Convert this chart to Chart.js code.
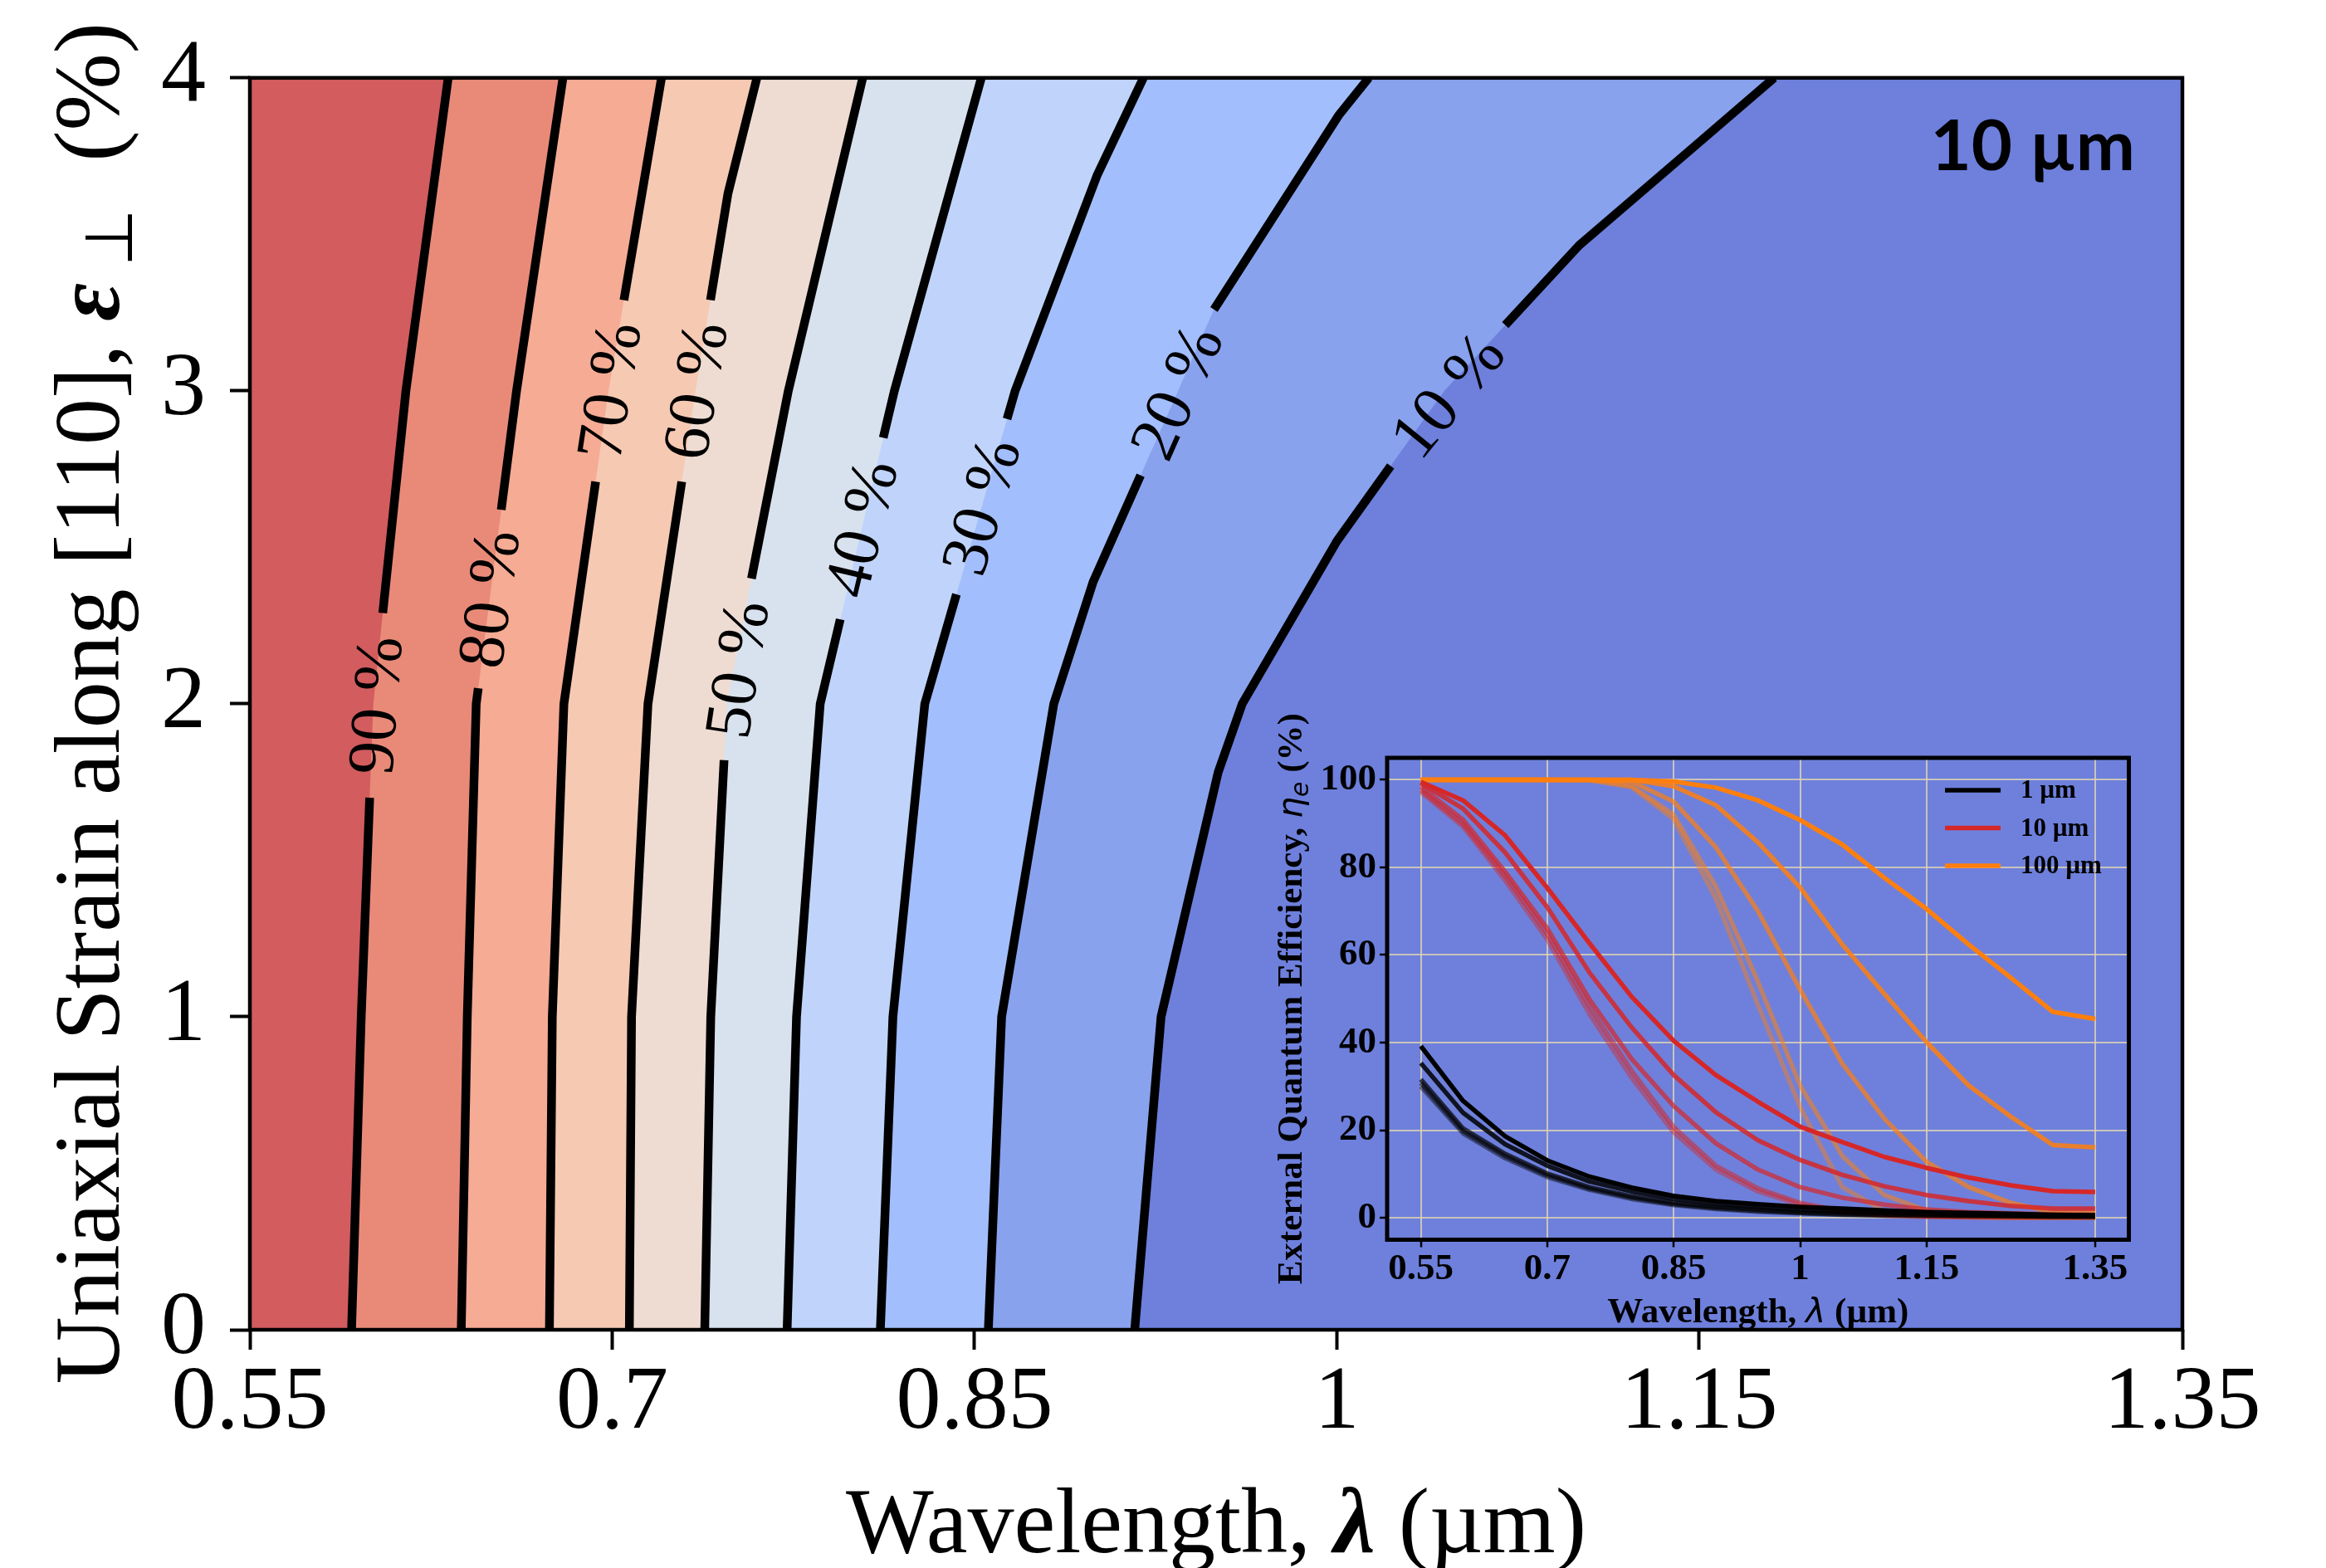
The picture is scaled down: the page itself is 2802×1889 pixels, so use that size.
<!DOCTYPE html>
<html><head><meta charset="utf-8">
<script src="https://cdn.jsdelivr.net/npm/chart.js@4.4.1/dist/chart.umd.min.js"></script>
<style>
html,body{margin:0;padding:0;background:#fff;}
#wrap{position:relative;width:2802px;height:1889px;overflow:hidden;background:#fff;}
#main{position:absolute;left:0;top:0;}
#insetBox{position:absolute;left:1500px;top:860px;width:1120px;height:760px;}
</style></head><body>
<div id="wrap"><canvas id="main" width="2802" height="1889"></canvas>
<div id="insetBox"><canvas id="inset" width="1120" height="760"></canvas></div></div>
<script>
// ---------------- DATA (main contour map) ----------------
const xTicks = [0.55, 0.7, 0.85, 1, 1.15, 1.35];
const yTicks = [0, 1, 2, 3, 4];
const levels = [90, 80, 70, 60, 50, 40, 30, 20, 10];
// contour polylines [wavelength (um), strain (%)], bottom to top
const contour90 = [[0.5921,0],[0.5961,1],[0.6011,2],[0.6146,3],[0.6321,4]];
const contour80 = [[0.6375,0],[0.6400,1],[0.6437,2],[0.6604,3],[0.6796,4]];
const contour70 = [[0.6740,0],[0.6752,1],[0.6800,2],[0.6985,3],[0.7204,4]];
const contour60 = [[0.7071,0],[0.7080,1],[0.7148,2],[0.7345,3],[0.7479,3.63],[0.7599,4]];
const contour50 = [[0.7383,0],[0.7408,1],[0.7475,2],[0.7729,3],[0.8037,4]];
const contour40 = [[0.7724,0],[0.7763,1],[0.7861,2],[0.8168,3],[0.8528,4]];
const contour30 = [[0.8110,0],[0.8162,1],[0.8294,2],[0.8668,3],[0.9008,3.69],[0.9199,4]];
const contour20 = [[0.8557,0],[0.8612,1],[0.8828,2],[0.8991,2.39],[0.9343,3],[0.9491,3.26],[1.0007,3.88],[1.0132,4]];
const contour10 = [[0.9163,0],[0.9272,1],[0.9508,1.78],[0.9608,2],[1.0,2.52],[1.0445,3],[1.1003,3.465],[1.1468,3.773],[1.181,4]];
const contours = [contour90, contour80, contour70, contour60, contour50, contour40, contour30, contour20, contour10];
// strain range where each contour's inline label sits
const labelGaps = [[1.70,2.29],[2.05,2.62],[2.71,3.29],[2.71,3.29],[1.82,2.40],[2.27,2.85],[2.35,2.91],[2.73,3.26],[2.76,3.21]];
// band colours: >90, 80-90, ..., 10-20 ; and <10
const bandColors = ['#d25c5e','#e98a79','#f5ab94','#f6c9b3','#eedcd3','#d8e2ee','#c0d4fb','#a3befc','#88a2ee'];
const lowBandColor = '#6e80dc';
const thicknessLabel = '10 µm';

// ---------------- DATA (inset) ----------------
const insetWavelength = [0.55,0.6,0.65,0.7,0.75,0.8,0.85,0.9,0.95,1.0,1.05,1.1,1.15,1.2,1.25,1.3,1.35];
const insetXTicks = [0.55, 0.7, 0.85, 1, 1.15, 1.35];
const insetYTicks = [0, 20, 40, 60, 80, 100];
const eqe1um = [
 [39.2,26.7,18.6,13.1,9.4,6.9,5.0,3.8,3.1,2.5,2.1,1.7,1.3,1.1,0.9,0.7,0.6],
 [35.3,24.0,16.8,11.9,8.3,6.0,4.3,3.2,2.5,1.9,1.4,1.1,0.9,0.7,0.6,0.5,0.4],
 [31.6,20.4,14.6,10.1,7.0,4.9,3.4,2.5,1.9,1.3,1.0,0.8,0.6,0.5,0.4,0.3,0.3],
 [30.8,19.8,14.1,9.7,6.7,4.6,3.1,2.2,1.6,1.1,0.8,0.6,0.5,0.4,0.3,0.2,0.2],
 [30.0,19.3,13.6,9.3,6.4,4.3,2.9,2.0,1.4,1.0,0.7,0.5,0.4,0.3,0.2,0.2,0.1]];
const eqe10um = [
 [99.5,95.3,87.3,75.3,62.7,50.5,40.4,32.6,26.5,20.8,17.3,13.9,11.4,9.2,7.4,6.1,5.9],
 [99.2,93.4,83.4,70.9,56.0,43.5,32.6,24.1,17.7,13.2,9.8,7.2,5.2,3.8,2.7,2.1,2.1],
 [98.4,90.9,79.0,66.1,49.9,36.3,25.5,17.0,11.0,7.0,4.6,3.0,1.9,1.3,1.0,0.8,0.7],
 [97.7,89.9,78.0,64.8,48.2,33.6,20.7,11.9,6.7,3.4,1.6,0.7,0.35,0.2,0.1,0.1,0.1],
 [97.2,89.3,77.0,63.5,46.5,32.0,19.5,11.0,6.0,3.0,1.3,0.5,0.2,0.1,0.0,0.0,0.0]];
const eqe100um = [
 [100,100,100,100,100,100,99.6,98.2,95.3,90.8,85.2,77.6,70.5,62.4,54.8,47.0,45.4],
 [100,100,100,100,100,100,98.5,94.2,85.7,75.4,62.4,51.1,40.1,30.2,23.1,16.6,16.1],
 [100,100,100,100,100,99.6,95.0,84.6,70.0,52.1,35.2,22.6,12.8,7.0,3.4,1.3,1.2],
 [100,100,100,100,100,98.6,92.0,75.6,53.9,30.2,14.1,5.2,1.6,0.4,0.1,0.1,0.1],
 [100,100,100,100,99.9,98.3,91.0,72.9,48.6,25.3,7.0,1.5,0.3,0.1,0.0,0.0,0.0]];
const groups = [
  {label: '1 µm', rgb: [0,0,0], curves: eqe1um},
  {label: '10 µm', rgb: [214,39,40], curves: eqe10um},
  {label: '100 µm', rgb: [255,127,14], curves: eqe100um}];
const curveAlpha = [1, 0.85, 0.7, 0.55, 0.45];

// ---------------- helpers ----------------
function pointAtY(poly, y) {
  for (let i = 0; i < poly.length - 1; i++) {
    const [x0, y0] = poly[i], [x1, y1] = poly[i + 1];
    if (y >= y0 && y <= y1) { const t = (y - y0) / (y1 - y0); return [x0 + t * (x1 - x0), y]; }
  }
  return poly[poly.length - 1];
}
function fmtTick(v) { return String(parseFloat(Number(v).toFixed(2))); }
function drawRich(ctx, pieces, cx, cy, rot) {
  ctx.save();
  ctx.translate(cx, cy); ctx.rotate(rot);
  let total = 0;
  pieces.forEach(p => { ctx.font = p.f; p.w = ctx.measureText(p.t).width; total += p.w; });
  let x = -total / 2;
  ctx.textBaseline = 'alphabetic'; ctx.textAlign = 'left'; ctx.fillStyle = '#000';
  pieces.forEach(p => { ctx.font = p.f; ctx.fillText(p.t, x, p.dy || 0); x += p.w; });
  ctx.restore();
}

// ---------------- main chart datasets ----------------
const SERIF = "'Liberation Serif', 'Times New Roman', serif";
const datasets = [];
datasets.push({
  data: [{x:0.55,y:0},{x:1.35,y:0},{x:1.35,y:4},{x:0.55,y:4}],
  showLine: true, fill: 'shape', backgroundColor: lowBandColor,
  borderColor: 'rgba(0,0,0,0)', borderWidth: 0, pointRadius: 0, order: 30
});
contours.forEach((c, i) => {
  const pts = c.map(p => ({x: p[0], y: p[1]}));
  pts.push({x: 0.55, y: 4}, {x: 0.55, y: 0});
  datasets.push({
    data: pts, showLine: true, fill: 'shape', backgroundColor: bandColors[i],
    borderColor: 'rgba(0,0,0,0)', borderWidth: 0, pointRadius: 0, order: 10 + i
  });
});
contours.forEach((c, i) => {
  const [g0, g1] = labelGaps[i];
  const pts = [];
  c.forEach(p => { if (p[1] < g0) pts.push({x: p[0], y: p[1]}); });
  const a = pointAtY(c, g0), b = pointAtY(c, g1);
  pts.push({x: a[0], y: a[1]}, {x: null, y: null}, {x: b[0], y: b[1]});
  c.forEach(p => { if (p[1] > g1) pts.push({x: p[0], y: p[1]}); });
  datasets.push({
    data: pts, showLine: true, fill: false, borderColor: '#000', borderWidth: 10.5,
    pointRadius: 0, spanGaps: false, order: 0, borderCapStyle: 'butt', borderJoinStyle: 'round'
  });
});

const mainDecor = {
  id: 'mainDecor',
  afterDraw(chart) {
    const ctx = chart.ctx, xs = chart.scales.x, ys = chart.scales.y, ca = chart.chartArea;
    // contour labels
    ctx.save();
    ctx.fillStyle = '#000';
    ctx.font = '80px ' + SERIF;
    ctx.textAlign = 'center'; ctx.textBaseline = 'middle';
    contours.forEach((c, i) => {
      const [g0, g1] = labelGaps[i];
      const a = pointAtY(c, g0), b = pointAtY(c, g1);
      const ax = xs.getPixelForValue(a[0]), ay = ys.getPixelForValue(a[1]);
      const bx = xs.getPixelForValue(b[0]), by = ys.getPixelForValue(b[1]);
      const ang = Math.atan2(by - ay, bx - ax);
      ctx.save();
      ctx.translate((ax + bx) / 2, (ay + by) / 2);
      ctx.rotate(ang);
      ctx.fillText(levels[i] + ' %', 0, 4);
      ctx.restore();
    });
    ctx.restore();
    // frame
    ctx.save();
    ctx.strokeStyle = '#000'; ctx.lineWidth = 4.5;
    ctx.strokeRect(ca.left, ca.top, ca.right - ca.left, ca.bottom - ca.top);
    ctx.restore();
    // thickness label
    ctx.save();
    ctx.fillStyle = '#000'; ctx.font = "bold 85px Lato, 'Open Sans', sans-serif";
    ctx.textAlign = 'right'; ctx.textBaseline = 'alphabetic';
    ctx.fillText(thicknessLabel, 2572, 205);
    ctx.restore();
    // axis titles
    drawRich(ctx, [
      {t: 'Wavelength, ', f: '112px ' + SERIF},
      {t: 'λ', f: 'bold italic 112px ' + SERIF},
      {t: ' (µm)', f: '112px ' + SERIF}], (ca.left + ca.right) / 2, 1870, 0);
    drawRich(ctx, [
      {t: 'Uniaxial Strain along [110], ', f: '112px ' + SERIF},
      {t: 'ε', f: 'bold italic 112px ' + SERIF},
      {t: ' ⊥', f: '80px ' + SERIF, dy: 16},
      {t: '  (%)', f: '112px ' + SERIF}], 143, 847, -Math.PI / 2);
  }
};

new Chart(document.getElementById('main'), {
  type: 'scatter',
  data: {datasets},
  options: {
    responsive: false, animation: false, devicePixelRatio: 1, events: [],
    layout: {padding: {left: 0, top: 88, right: 173, bottom: 0}},
    plugins: {legend: {display: false}, tooltip: {enabled: false}},
    scales: {
      x: {
        type: 'linear', min: 0.55, max: 1.35,
        afterBuildTicks: s => { s.ticks = xTicks.map(v => ({value: v})); },
        afterFit: s => { s.height = 287; },
        ticks: {font: {family: SERIF, size: 108}, color: '#000', padding: 1, autoSkip: false, maxRotation: 0, callback: v => fmtTick(v)},
        grid: {drawOnChartArea: false, drawTicks: true, tickLength: 24, tickWidth: 4, tickColor: '#000', color: '#000'},
        border: {display: false}
      },
      y: {
        type: 'linear', min: 0, max: 4,
        afterBuildTicks: s => { s.ticks = yTicks.map(v => ({value: v})); },
        afterFit: s => { s.width = 301; },
        ticks: {font: {family: SERIF, size: 108}, color: '#000', padding: 29, callback: v => fmtTick(v)},
        grid: {drawOnChartArea: false, drawTicks: true, tickLength: 24, tickWidth: 4, tickColor: '#000', color: '#000'},
        border: {display: false}
      }
    }
  },
  plugins: [mainDecor]
});

// ---------------- inset chart ----------------
const insetSets = [];
groups.forEach(g => {
  g.curves.forEach((vals, k) => {
    insetSets.push({
      data: vals.map((v, j) => ({x: insetWavelength[j], y: v})),
      showLine: true, fill: false, pointRadius: 0, borderWidth: 5.5,
      borderColor: `rgba(${g.rgb[0]},${g.rgb[1]},${g.rgb[2]},${curveAlpha[k]})`,
      borderJoinStyle: 'round', order: k
    });
  });
});
const insetDecor = {
  id: 'insetDecor',
  afterDraw(chart) {
    const ctx = chart.ctx, ca = chart.chartArea;
    ctx.save();
    ctx.strokeStyle = '#000'; ctx.lineWidth = 5;
    ctx.strokeRect(ca.left, ca.top, ca.right - ca.left, ca.bottom - ca.top);
    ctx.restore();
    // legend
    ctx.save();
    groups.forEach((g, i) => {
      const y = 92 + i * 45.5;
      ctx.strokeStyle = `rgb(${g.rgb.join(',')})`; ctx.lineWidth = 5.5;
      ctx.beginPath(); ctx.moveTo(843, y); ctx.lineTo(910, y); ctx.stroke();
      ctx.fillStyle = '#000'; ctx.font = 'bold 31px ' + SERIF;
      ctx.textAlign = 'left'; ctx.textBaseline = 'middle';
      ctx.fillText(g.label, 934, y + 1);
    });
    ctx.restore();
    drawRich(ctx, [
      {t: 'Wavelength, ', f: 'bold 43px ' + SERIF},
      {t: 'λ', f: "italic 41px 'DejaVu Sans'"},
      {t: ' (µm)', f: 'bold 43px ' + SERIF}], (ca.left + ca.right) / 2, 733, 0);
    drawRich(ctx, [
      {t: 'External Quantum Efficiency, ', f: 'bold 43px ' + SERIF},
      {t: 'η', f: "italic 41px 'DejaVu Sans'"},
      {t: 'e', f: "italic 30px 'DejaVu Sans'", dy: 8},
      {t: ' (%)', f: 'bold 43px ' + SERIF}], 68, (ca.top + ca.bottom) / 2, -Math.PI / 2);
  }
};
new Chart(document.getElementById('inset'), {
  type: 'scatter',
  data: {datasets: insetSets},
  options: {
    responsive: false, animation: false, devicePixelRatio: 1, events: [],
    layout: {padding: {left: 0, top: 53, right: 55.5, bottom: 0}},
    plugins: {legend: {display: false}, tooltip: {enabled: false}},
    scales: {
      x: {
        type: 'linear', min: 0.51, max: 1.39,
        afterBuildTicks: s => { s.ticks = insetXTicks.map(v => ({value: v})); },
        afterFit: s => { s.height = 126.5; },
        ticks: {font: {family: SERIF, size: 45, weight: 'bold'}, color: '#000', padding: 0, autoSkip: false, maxRotation: 0, callback: v => fmtTick(v)},
        grid: {color: 'rgba(225,212,178,0.8)', lineWidth: 2, drawTicks: true, tickLength: 9, tickWidth: 2.5, tickColor: '#000'},
        border: {display: false}
      },
      y: {
        type: 'linear', min: -5, max: 105,
        afterBuildTicks: s => { s.ticks = insetYTicks.map(v => ({value: v})); },
        afterFit: s => { s.width = 171; },
        ticks: {font: {family: SERIF, size: 45, weight: 'bold'}, color: '#000', padding: 4, callback: v => fmtTick(v)},
        grid: {color: 'rgba(225,212,178,0.8)', lineWidth: 2, drawTicks: true, tickLength: 9, tickWidth: 2.5, tickColor: '#000'},
        border: {display: false}
      }
    }
  },
  plugins: [insetDecor]
});
</script>
</body></html>
